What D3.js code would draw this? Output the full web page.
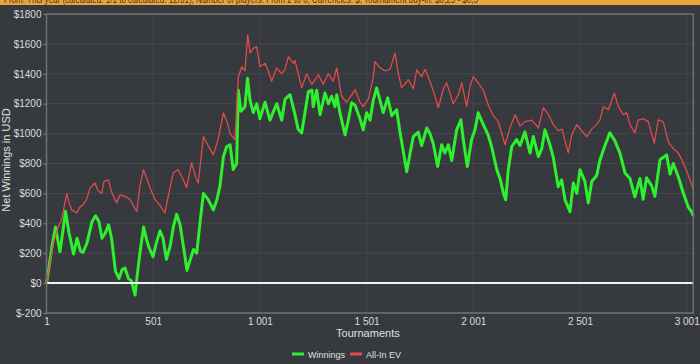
<!DOCTYPE html>
<html>
<head>
<meta charset="utf-8">
<script src="https://cdn.jsdelivr.net/npm/d3@7"></script>
<style>
  body { margin: 0; background: #36393d; }
  svg { display: block; font-family: "Liberation Sans", Arial, sans-serif; }
</style>
</head>
<body>
<svg id="chart" width="700" height="364"></svg>
<script>
// Winnings (green)
const winTournaments = [1,13,27,43,55,64,76,90,106,128,
  144,160,172,191,214,231,247,261,275,292,
  306,324,341,355,369,385,399,416,430,441,
  456,470,481,500,516,533,547,563,580,596,
  611,627,650,659,673,690,705,720,736,758,
  783,800,814,830,845,861,876,892,900,912,
  931,943,955,970,986,1001,1025,1048,1080,1103,
  1119,1142,1165,1180,1197,1212,1228,1245,1251,1267,
  1283,1306,1322,1337,1353,1361,1376,1400,1414,1431,
  1447,1470,1485,1501,1517,1532,1548,1564,1579,1600,
  1619,1642,1658,1673,1689,1705,1720,1743,1759,1783,
  1798,1814,1834,1853,1868,1884,1900,1923,1943,1954,
  1973,1993,2009,2024,2048,2071,2087,2111,2126,2142,
  2153,2165,2181,2204,2220,2243,2267,2282,2306,2322,
  2337,2361,2376,2384,2399,2415,2431,2454,2470,2486,
  2501,2524,2540,2556,2579,2595,2618,2641,2665,2688,
  2712,2735,2758,2782,2797,2813,2837,2852,2876,2907,
  2923,2938,2962,2985,3008,3024,3032];
const winValues = [0,110,250,375,280,210,330,480,340,195,
  300,215,205,270,410,450,410,300,330,390,
  300,80,30,90,100,30,15,-80,100,225,
  375,290,240,176,270,350,300,160,245,380,
  460,390,176,85,150,225,200,400,600,560,
  490,560,650,846,912,925,760,800,1290,1150,
  1180,1370,1220,1140,1200,1100,1210,1090,1200,1090,
  1230,1260,1130,1030,1005,1140,1280,1290,1180,1290,
  1126,1271,1200,1250,1180,1260,1140,992,1080,1206,
  1190,1100,1025,1140,1090,1220,1306,1220,1140,1239,
  1120,1160,1005,880,745,870,980,1010,920,1038,
  1000,930,780,925,870,925,820,1025,1092,960,
  780,960,1025,1139,1060,990,912,760,700,603,
  557,760,912,960,920,1012,870,980,846,900,
  1025,920,840,770,645,690,557,477,670,600,
  758,680,536,680,720,825,920,1005,950,870,
  737,700,577,700,560,704,650,580,825,858,
  730,800,710,603,510,477,450];

// All-In EV (red)
const evTournaments = [1,17,33,46,56,71,96,106,119,142,
  158,173,189,205,228,242,260,270,291,308,
  330,345,369,392,424,439,455,471,486,509,
  533,556,577,595,617,642,658,681,702,712,
  728,736,758,783,805,830,847,861,884,900,
  916,931,944,955,970,986,1001,1025,1040,1056,
  1080,1103,1119,1134,1158,1165,1181,1197,1220,1244,
  1275,1298,1322,1345,1361,1384,1408,1423,1447,1470,
  1485,1509,1532,1540,1564,1587,1611,1634,1650,1665,
  1697,1720,1736,1759,1775,1798,1822,1837,1861,1876,
  1892,1907,1931,1947,1970,1986,2001,2024,2048,2071,
  2095,2118,2150,2173,2197,2220,2243,2275,2306,2329,
  2352,2376,2399,2417,2431,2446,2462,2486,2509,2532,
  2556,2579,2595,2610,2634,2662,2681,2704,2720,2735,
  2758,2774,2797,2821,2849,2868,2891,2915,2938,2962,
  2985,3008,3032];
const evValues = [0,130,268,330,377,420,600,540,490,470,
  510,524,560,637,670,620,600,680,690,600,
  536,590,580,560,477,650,758,700,640,560,
  520,469,620,737,760,691,640,804,700,670,
  871,979,920,858,960,1139,1080,1000,960,1380,
  1447,1420,1661,1540,1570,1581,1447,1470,1420,1350,
  1440,1400,1430,1514,1470,1490,1400,1306,1400,1330,
  1393,1330,1400,1350,1440,1248,1210,1240,1293,1210,
  1180,1230,1373,1481,1440,1420,1430,1538,1400,1306,
  1360,1300,1427,1380,1430,1350,1250,1173,1300,1340,
  1270,1200,1260,1340,1180,1320,1381,1340,1290,1193,
  1120,1080,925,1040,1126,1050,1080,1090,1038,1173,
  1130,1060,1020,1030,950,871,990,1059,1020,979,
  1030,1060,1092,1180,1160,1271,1180,1126,1140,1060,
  1005,1090,1100,1080,937,1092,1080,945,900,870,
  804,724,624];

const xTicks = [1, 501, 1001, 1501, 2001, 2501, 3001];
const yTicks = [-200, 0, 200, 400, 600, 800, 1000, 1200, 1400, 1600, 1800];
const seriesNames = ['Winnings', 'All-In EV'];
const seriesColors = ['#2ef02e', '#e04b4b'];
const filterText = 'From: This year (calculated: 1/1 to calculated: 12/31), Number of players: From 2 to 6, Currencies: $, Tournament buy-in: $0,25 - $0,5';

const svg = d3.select('#chart');
const width = +svg.attr('width');
const height = +svg.attr('height');
const margin = {top: 14, right: 6.7, bottom: 51, left: 46.5};
const innerWidth = width - margin.left - margin.right;
const innerHeight = height - margin.top - margin.bottom;

// orange filter bar at the very top, mostly cut off
svg.append('rect').attr('x', 0).attr('y', 0).attr('width', width).attr('height', 5).attr('fill', '#eaa43f');
svg.append('text')
  .attr('x', 4).attr('y', 2.5)
  .attr('font-size', '10px')
  .attr('textLength', 474).attr('lengthAdjust', 'spacingAndGlyphs')
  .attr('fill', '#4a3816')
  .text(filterText);

const g = svg.append('g')
  .attr('transform', `translate(${margin.left}, ${margin.top})`);

const xScale = d3.scaleLinear().domain([1, 3032]).range([0, innerWidth]);
const yScale = d3.scaleLinear().domain([-200, 1800]).range([innerHeight, 0]);

const spaced = d3.formatLocale({decimal: '.', thousands: ' ', grouping: [3], currency: ['$', '']}).format(',d');

// grid
g.append('g').selectAll('line').data(yTicks).enter().append('line')
  .attr('x1', 0).attr('x2', innerWidth)
  .attr('y1', d => yScale(d)).attr('y2', d => yScale(d))
  .attr('stroke', '#45484c').attr('stroke-width', 1);
g.append('g').selectAll('line').data(xTicks).enter().append('line')
  .attr('y1', 0).attr('y2', innerHeight)
  .attr('x1', d => xScale(d)).attr('x2', d => xScale(d))
  .attr('stroke', '#45484c').attr('stroke-width', 1);

// axes
const yAxis = d3.axisLeft(yScale).tickValues(yTicks).tickSize(3).tickPadding(2).tickFormat(d => '$' + d);
const xAxis = d3.axisBottom(xScale).tickValues(xTicks).tickSize(0).tickPadding(5).tickFormat(spaced);
const yAxisGroup = g.append('g').call(yAxis);
const xAxisGroup = g.append('g').attr('transform', `translate(0, ${innerHeight})`).call(xAxis);
[yAxisGroup, xAxisGroup].forEach(a => {
  a.select('.domain').remove();
  a.selectAll('.tick line').attr('stroke', '#8a8d90');
  a.selectAll('.tick text').attr('fill', '#dcdcdc').attr('font-size', '10px');
});

// series
const line = d3.line().x(d => xScale(d.t)).y(d => yScale(d.v));
const winData = winTournaments.map((t, i) => ({t, v: winValues[i]}));
const evData = evTournaments.map((t, i) => ({t, v: evValues[i]}));

g.append('path').datum(winData)
  .attr('d', line).attr('fill', 'none')
  .attr('stroke', seriesColors[0]).attr('stroke-width', 3).attr('stroke-linejoin', 'round');
g.append('path').datum(evData)
  .attr('d', line).attr('fill', 'none')
  .attr('stroke', seriesColors[1]).attr('stroke-width', 1.3).attr('stroke-linejoin', 'round');

// zero line
g.append('line')
  .attr('x1', 0).attr('x2', innerWidth)
  .attr('y1', yScale(0)).attr('y2', yScale(0))
  .attr('stroke', '#f2f2f2').attr('stroke-width', 2);

// plot border
g.append('rect')
  .attr('x', 0).attr('y', 0).attr('width', innerWidth).attr('height', innerHeight)
  .attr('fill', 'none').attr('stroke', '#6e7174').attr('stroke-width', 1.5);

// axis titles
svg.append('text')
  .attr('x', margin.left + innerWidth / 2 - 2).attr('y', 337)
  .attr('text-anchor', 'middle').attr('font-size', '11px').attr('fill', '#e0e0e0')
  .text('Tournaments');
svg.append('text')
  .attr('transform', `translate(10, 160) rotate(-90)`)
  .attr('text-anchor', 'middle').attr('font-size', '11px').attr('fill', '#e0e0e0')
  .text('Net Winnings in USD');

// legend
const legendX = [292, 350];
const legend = svg.append('g').selectAll('g').data(seriesNames).enter().append('g')
  .attr('transform', (d, i) => `translate(${legendX[i]}, 354)`);
legend.append('line')
  .attr('x1', 0).attr('x2', 12).attr('y1', 0).attr('y2', 0)
  .attr('stroke', (d, i) => seriesColors[i]).attr('stroke-width', 3);
legend.append('text')
  .attr('x', 16).attr('y', 3.5)
  .attr('font-size', '9px').attr('fill', '#e0e0e0')
  .text(d => d);
</script>
</body>
</html>
